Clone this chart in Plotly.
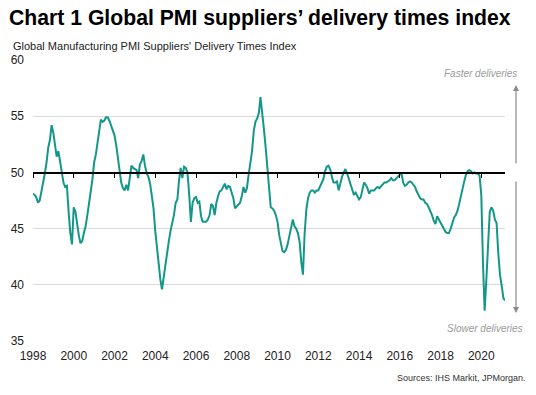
import pandas as pd
import plotly.graph_objects as go

start_month = "1998-01-01"
delivery_times = [
    48.1, 48.0, 47.8, 47.3, 47.5, 48.2, 49.0, 49.9, 50.9, 52.2, 52.9, 54.2,  # 1998
    53.5, 52.5, 51.4, 51.9, 51.0, 50.2, 49.1, 48.7, 48.8, 46.5, 44.6, 43.6,  # 1999
    46.9, 46.5, 45.4, 44.4, 43.7, 43.9, 44.6, 45.2, 46.2, 47.1, 48.3, 49.4,  # 2000
    50.9, 51.6, 52.6, 53.7, 54.7, 54.5, 54.6, 54.9, 54.9, 54.6, 54.1, 53.8,  # 2001
    53.3, 52.4, 51.3, 50.1, 49.1, 48.6, 48.4, 48.9, 48.4, 49.5, 50.6, 50.4,  # 2002
    50.3, 50.2, 49.5, 50.7, 51.0, 51.6, 50.6, 49.9, 49.6, 49.0, 47.9, 46.8,  # 2003
    44.8, 43.3, 41.6, 40.5, 39.6, 40.8, 42.0, 42.8, 43.9, 44.8, 45.4, 46.2,  # 2004
    47.3, 47.6, 49.2, 50.4, 49.5, 50.5, 50.4, 50.0, 48.0, 45.6, 47.3, 47.7,  # 2005
    47.8, 47.3, 47.4, 46.1, 45.6, 45.6, 45.6, 45.8, 46.2, 47.2, 47.0, 46.2,  # 2006
    47.3, 47.9, 48.3, 48.4, 48.7, 49.0, 48.5, 48.8, 48.7, 48.2, 47.7, 46.8,  # 2007
    47.0, 47.1, 47.3, 47.9, 48.7, 48.2, 48.6, 49.8, 50.7, 51.9, 53.7, 54.5,  # 2008
    54.8, 55.3, 56.7, 55.5, 53.9, 52.3, 50.5, 48.3, 46.9, 46.8, 46.6, 46.2,  # 2009
    45.6, 44.4, 43.6, 43.0, 42.9, 43.1, 43.6, 44.3, 45.0, 45.8, 45.2, 45.0,  # 2010
    44.6, 43.8, 42.1, 40.9, 44.5, 46.7, 47.7, 48.2, 48.4, 48.4, 48.2, 48.4,  # 2011
    48.4, 48.8, 49.1, 49.4, 50.1, 50.5, 50.6, 50.3, 49.6, 49.1, 49.1, 49.2,  # 2012
    48.4, 49.2, 49.6, 50.0, 50.3, 49.9, 49.4, 48.9, 48.5, 48.0, 48.2, 47.9,  # 2013
    47.6, 47.8, 48.6, 49.1, 48.9, 48.6, 48.1, 48.4, 48.4, 48.4, 48.6, 48.7,  # 2014
    48.6, 48.8, 49.0, 49.1, 49.1, 49.2, 49.3, 49.5, 49.3, 49.3, 49.5, 49.6,  # 2015
    49.8, 49.9, 49.1, 48.8, 48.9, 49.1, 49.2, 49.1, 48.9, 48.7, 48.3, 48.0,  # 2016
    47.7, 47.6, 47.6, 47.3, 47.2, 46.9, 46.6, 46.2, 45.7, 45.4, 46.1, 45.8,  # 2017
    45.6, 45.3, 45.0, 44.7, 44.6, 44.6, 45.0, 45.6, 46.0, 46.2, 46.6, 47.2,  # 2018
    48.0, 48.6, 49.2, 49.8, 50.1, 50.2, 50.1, 49.9, 50.0, 49.9, 49.9, 49.7,  # 2019
    48.0, 41.8, 37.7, 40.5, 43.6, 46.5, 46.9, 46.6, 45.8, 45.5, 42.8, 40.9,  # 2020
    39.9, 38.8, 38.6,                                                        # 2021
]
tick_years = [str(y) for y in range(1998, 2021, 2)]
y_ticks = [35, 40, 45, 50, 55, 60]

dates = pd.date_range(start=start_month, periods=len(delivery_times), freq="MS")
x_range = [dates[0], dates[-1]]
tick_vals = [pd.Timestamp(f"{y}-01-01") for y in tick_years]

LINE = "#13978a"
GREY = "#9a9a9a"
FONT = "Liberation Sans, Arial, sans-serif"

fig = go.Figure()
fig.add_trace(go.Scatter(x=dates, y=delivery_times, mode="lines",
                         line=dict(color=LINE, width=2), hoverinfo="skip",
                         showlegend=False))

fig.update_layout(
    width=536, height=395,
    margin=dict(l=33, r=31, t=60, b=54),
    paper_bgcolor="white", plot_bgcolor="white",
    hovermode=False,
    font=dict(family=FONT, size=12, color="#222222"),
    xaxis=dict(range=x_range, tickvals=tick_vals, ticktext=tick_years,
               showgrid=False, showline=False, ticks="", zeroline=False,
               ticklabelstandoff=6,
               tickfont=dict(size=12, color="#222222")),
    xaxis2=dict(range=x_range, overlaying="x", anchor="free", position=0.6,
                tickvals=tick_vals, showticklabels=False, showgrid=False,
                showline=True, linecolor="black", linewidth=1.3,
                ticks="outside", ticklen=4, tickcolor="black", tickwidth=1,
                zeroline=False),
    yaxis=dict(range=[35, 60], tickvals=y_ticks, showgrid=True,
               gridcolor="#d9d9d9", gridwidth=1, zeroline=False,
               showline=False, ticks="", ticklabelstandoff=8,
               tickfont=dict(size=12, color="#222222")),
)

# invisible trace to make the secondary axis (the 50 line with ticks) render
fig.add_trace(go.Scatter(x=[dates[0]], y=[50], xaxis="x2", mode="markers",
                         marker=dict(opacity=0), hoverinfo="skip", showlegend=False))

def px_to_paper_x(px):
    return (px - 33) / 472

def px_to_paper_y(py):
    return (341 - py) / 281

ann = []
ann.append(dict(text="<b>Chart 1 Global PMI suppliers’ delivery times index</b>",
                x=px_to_paper_x(7), y=px_to_paper_y(18), xref="paper", yref="paper",
                xanchor="left", yanchor="middle", showarrow=False,
                font=dict(size=21.2, color="black", family=FONT)))
ann.append(dict(text="Global Manufacturing PMI Suppliers' Delivery Times Index",
                x=px_to_paper_x(11), y=px_to_paper_y(46), xref="paper", yref="paper",
                xanchor="left", yanchor="middle", showarrow=False,
                font=dict(size=11, color="#222222", family=FONT)))
ann.append(dict(text="<i>Faster deliveries</i>",
                x=px_to_paper_x(519), y=px_to_paper_y(74), xref="paper", yref="paper",
                xanchor="right", yanchor="middle", showarrow=False,
                font=dict(size=10, color=GREY, family=FONT)))
ann.append(dict(text="<i>Slower deliveries</i>",
                x=px_to_paper_x(525), y=px_to_paper_y(328), xref="paper", yref="paper",
                xanchor="right", yanchor="middle", showarrow=False,
                font=dict(size=10, color=GREY, family=FONT)))
ann.append(dict(text="Sources: IHS Markit, JPMorgan.",
                x=px_to_paper_x(528), y=px_to_paper_y(378), xref="paper", yref="paper",
                xanchor="right", yanchor="middle", showarrow=False,
                font=dict(size=9, color="#333333", family=FONT)))
# arrows
ann.append(dict(text="", x=px_to_paper_x(516), y=px_to_paper_y(85), xref="paper", yref="paper",
                ax=0, ay=80, axref="pixel", ayref="pixel", showarrow=True,
                arrowhead=2, arrowsize=1, arrowwidth=1.2, arrowcolor="#8a8a8a"))
ann.append(dict(text="", x=px_to_paper_x(516), y=px_to_paper_y(313), xref="paper", yref="paper",
                ax=0, ay=-133, axref="pixel", ayref="pixel", showarrow=True,
                arrowhead=2, arrowsize=1, arrowwidth=1.2, arrowcolor="#8a8a8a"))
fig.update_layout(annotations=ann)

fig.write_html("out.html", config={"displayModeBar": False, "staticPlot": True},
               post_script="document.body.style.margin='0';document.body.style.padding='0';")
